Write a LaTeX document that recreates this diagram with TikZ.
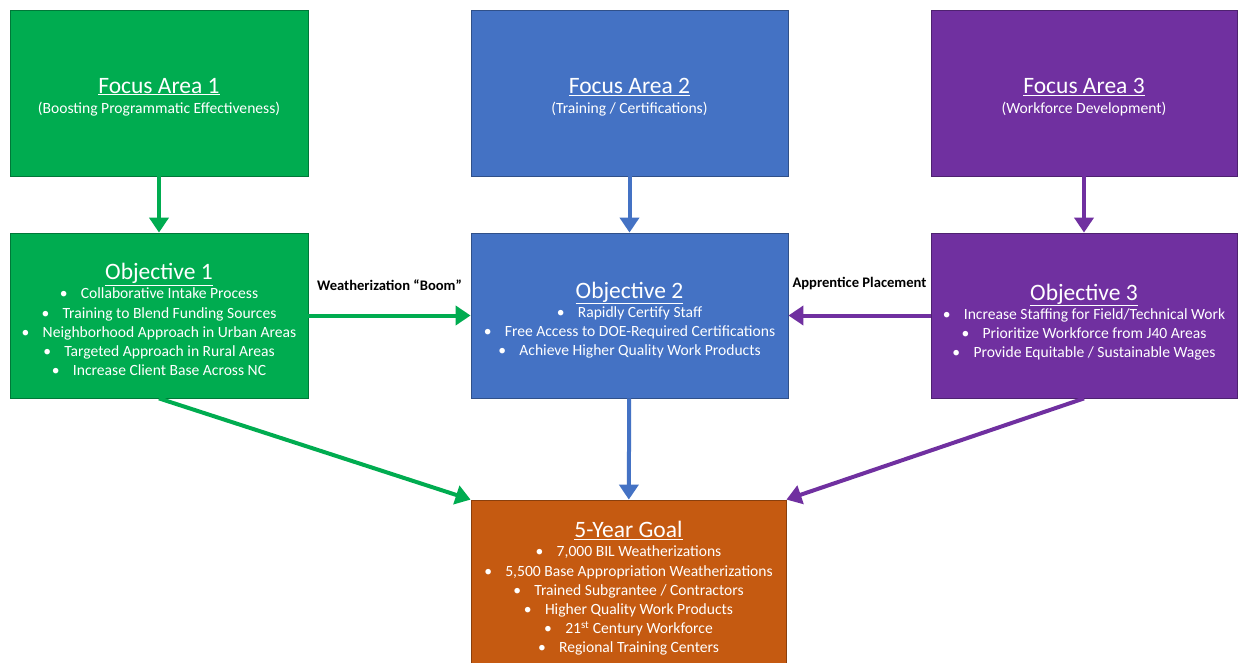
\documentclass[tikz,border=0pt]{standalone}
\usepackage{fontspec}
\setmainfont{Carlito}
\usetikzlibrary{arrows.meta}
\definecolor{cgreen}{RGB}{0,172,80}
\definecolor{cblue}{RGB}{68,114,196}
\definecolor{cpurple}{RGB}{112,48,160}
\definecolor{corange}{RGB}{197,90,17}
\newcommand\ttl[1]{{\fontsize{23.5}{19}\selectfont\underline{#1}}}
\newcommand\bul{\textbullet\hspace{0.85em}}
\tikzset{
  box/.style={draw=#1!70!black, fill=#1, line width=0.8pt, inner sep=0pt},
  txt/.style={text=white, align=center, inner sep=0pt, font=\fontsize{15.6}{19.2}\selectfont},
  arr/.style={draw=#1, line width=4pt, -{Triangle[length=15pt,width=19pt]}},
  lbl/.style={font=\fontsize{14.6}{16}\selectfont\bfseries, text=black}
}
\begin{document}
\begin{tikzpicture}[x=1pt,y=-1pt]
\useasboundingbox[fill=white] (0,0) rectangle (1247,663);
\node[box=cgreen, minimum width=298pt, minimum height=166pt] (fa1) at (159,93) {};
\node[box=cblue, minimum width=317pt, minimum height=166pt] (fa2) at (629.5,93) {};
\node[box=cpurple, minimum width=306pt, minimum height=166pt] (fa3) at (1084,93) {};
\node[box=cgreen, minimum width=298pt, minimum height=165pt] (o1) at (159,315.5) {};
\node[box=cblue, minimum width=317pt, minimum height=165pt] (o2) at (629.5,315.5) {};
\node[box=cpurple, minimum width=306pt, minimum height=165pt] (o3) at (1084,315.5) {};
\node[box=corange, minimum width=315pt, minimum height=166pt] (goal) at (628.5,583) {};
\node[txt] (fa1t) at (159,97)
  {\ttl{Focus Area 1}\\[1pt](Boosting Programmatic Effectiveness)};
\node[txt] (fa2t) at (629.5,97)
  {\ttl{Focus Area 2}\\[1pt](Training / Certifications)};
\node[txt] (fa3t) at (1084,97)
  {\ttl{Focus Area 3}\\[1pt](Workforce Development)};
\node[txt] (o1t) at (159,319.5)
  {\ttl{Objective 1}\\\bul Collaborative Intake Process\\\bul Training to Blend Funding Sources\\\bul Neighborhood Approach in Urban Areas\\\bul Targeted Approach in Rural Areas\\\bul Increase Client Base Across NC};
\node[txt] (o2t) at (629.5,320)
  {\ttl{Objective 2}\\\bul Rapidly Certify Staff\\\bul Free Access to DOE-Required Certifications\\\bul Achieve Higher Quality Work Products};
\node[txt] (o3t) at (1084,322)
  {\ttl{Objective 3}\\\bul Increase Staffing for Field/Technical Work\\\bul Prioritize Workforce from J40 Areas\\\bul Provide Equitable / Sustainable Wages};
\node[txt] (goalt) at (628.5,588.5)
  {\ttl{5-Year Goal}\\\bul 7,000 BIL Weatherizations\\\bul 5,500 Base Appropriation Weatherizations\\\bul Trained Subgrantee / Contractors\\\bul Higher Quality Work Products\\\bul 21\textsuperscript{st} Century Workforce\\\bul Regional Training Centers};
\draw[arr=cgreen] (fa1) -- (o1);
\draw[arr=cblue] (fa2) -- (o2);
\draw[arr=cpurple] (fa3) -- (o3);
\draw[arr=cgreen] (o1) -- node[lbl, midway, above=20pt] (l1) {Weatherization “Boom”} (o2);
\draw[arr=cpurple] (o3) -- node[lbl, midway, above=20pt] (l2) {Apprentice Placement} (o2);
\draw[arr=cblue] (o2) -- (goal);
\draw[arr=cgreen] (o1.south) -- (goal.north west);
\draw[arr=cpurple] (o3.south) -- (goal.north east);
\end{tikzpicture}
\end{document}
